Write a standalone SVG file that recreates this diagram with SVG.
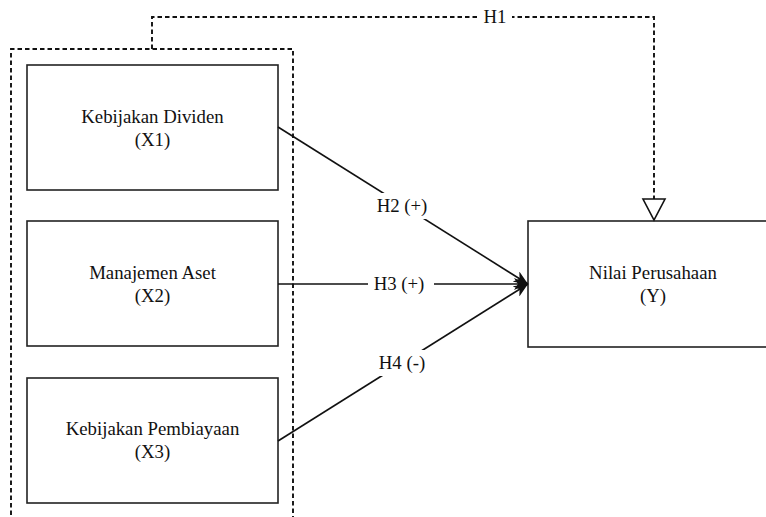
<svg xmlns="http://www.w3.org/2000/svg" width="766" height="517" viewBox="0 0 766 517">
<style>
.box{fill:#fff;stroke:#222;stroke-width:1.6}
.t{font-family:"Liberation Serif","Times New Roman",serif;font-size:18.8px;fill:#111;text-anchor:middle}
.ln{fill:none;stroke:#111;stroke-width:1.6}
.dash{fill:none;stroke:#111;stroke-width:1.9;stroke-dasharray:4.5 3}
.lbl{fill:#fff;stroke:none}
</style>
<defs>
<marker id="ah" viewBox="0 0 14 12" refX="14" refY="6" markerWidth="14" markerHeight="12" markerUnits="userSpaceOnUse" orient="auto">
<path d="M0,0 L14,6 L0,12 L4,6 Z" fill="#111"/>
</marker>
</defs>
<g id="group-x">
<path class="dash" d="M11,530 L11,49 L293,49 L293,530"/>
</g>
<g id="x1">
<rect class="box" x="27" y="65" width="251" height="125"/>
<text class="t" x="152.5" y="123">Kebijakan Dividen</text>
<text class="t" x="152.5" y="146">(X1)</text>
</g>
<g id="x2">
<rect class="box" x="27" y="221" width="251" height="125"/>
<text class="t" x="152.5" y="279">Manajemen Aset</text>
<text class="t" x="152.5" y="302">(X2)</text>
</g>
<g id="x3">
<rect class="box" x="27" y="378" width="251" height="125"/>
<text class="t" x="152.5" y="435">Kebijakan Pembiayaan</text>
<text class="t" x="152.5" y="458">(X3)</text>
</g>
<g id="y">
<rect class="box" x="528" y="221" width="251" height="126"/>
<text class="t" x="653" y="279">Nilai Perusahaan</text>
<text class="t" x="653" y="302">(Y)</text>
</g>
<g id="connectors">
<path class="dash" d="M152,49 L152,17 L654,17 L654,199"/>
<path d="M643,199 L665,199 L654,220 Z" fill="#fff" stroke="#111" stroke-width="1.6"/>
<rect class="lbl" x="478" y="6" width="34" height="22"/>
<text class="t" x="495" y="23">H1</text>
<path class="ln" d="M278,127 L528,284" marker-end="url(#ah)"/>
<path class="ln" d="M278,284 L528,284" marker-end="url(#ah)"/>
<path class="ln" d="M278,441 L528,284" marker-end="url(#ah)"/>
<rect class="lbl" x="372" y="193" width="60" height="26"/>
<text class="t" x="402" y="212">H2 (+)</text>
<rect class="lbl" x="368" y="272" width="66" height="24"/>
<text class="t" x="399" y="290">H3 (+)</text>
<rect class="lbl" x="374" y="350" width="56" height="26"/>
<text class="t" x="402" y="369">H4 (-)</text>
</g>
</svg>
